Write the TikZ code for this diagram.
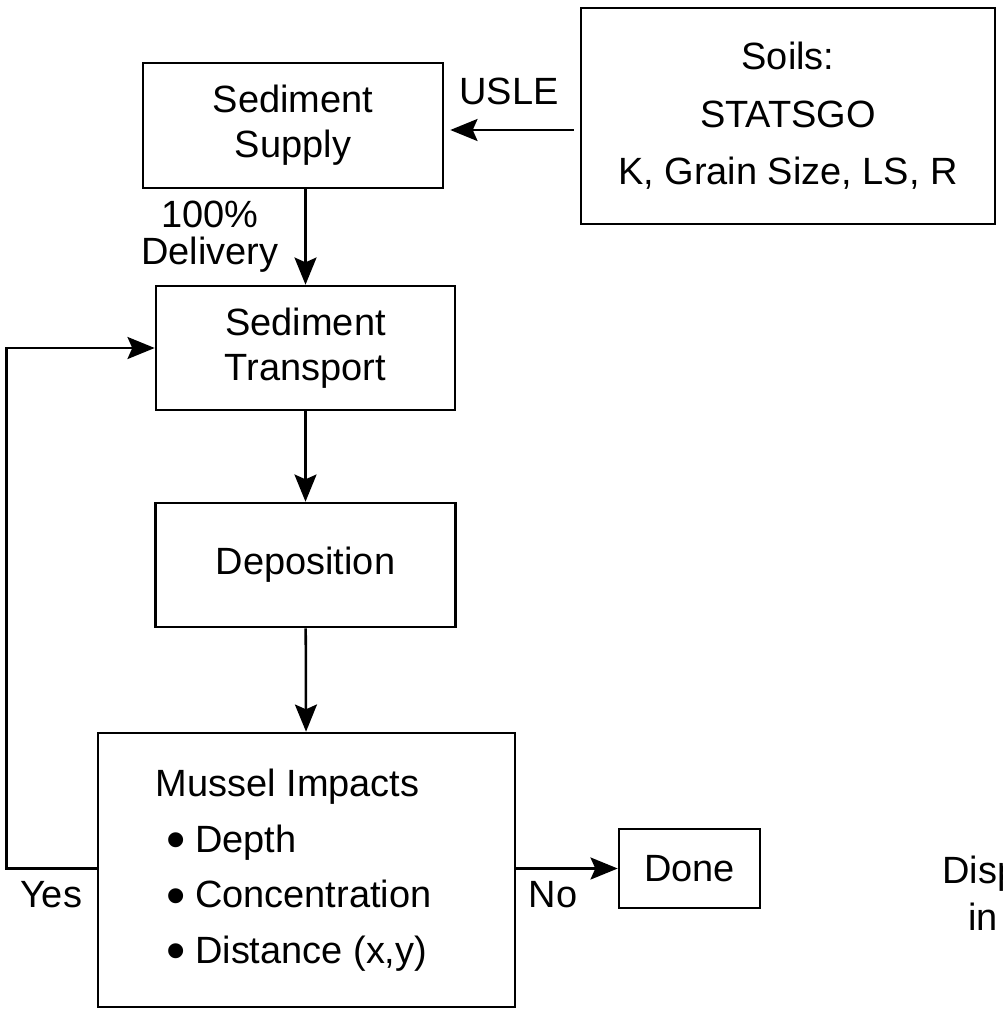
\documentclass[tikz,border=0pt]{standalone}
\usepackage{fontspec}
\setmainfont{Liberation Sans}
\usetikzlibrary{arrows.meta}

\newcommand{\bigdot}{\hspace*{0.28em}\raisebox{-0.17em}{\scalebox{1.45}{\textbullet}}\hspace{0.25em}}

\begin{document}
\begin{tikzpicture}[x=0.025cm,y=-0.025cm,
	box/.style={draw, line width=1.8pt, inner sep=0pt, align=center, font=\fontsize{27}{32}\selectfont},
	lbl/.style={inner sep=0pt, align=center, font=\fontsize{27}{26.5}\selectfont},
	arr/.style={line width=1.8pt, -{Stealth[length=0.68cm,width=0.55cm,inset=0.12cm]}}]

	\useasboundingbox (0,0) rectangle (1003,1013);

	\node[box, minimum width=7.5cm, minimum height=3.125cm] (supply) at (293,125.5) {Sediment\\Supply};
	\node[box, minimum width=10.35cm, minimum height=5.4cm, font=\fontsize{27}{41}\selectfont] (soils) at (788,116) {Soils:\\STATSGO\\K, Grain Size, LS, R};
	\node[box, minimum width=7.475cm, minimum height=3.1cm] (transport) at (305.5,348) {Sediment\\Transport};
	\node[box, minimum width=7.5cm, minimum height=3.1cm] (deposition) at (305.5,565) {Deposition};
	\node[box, minimum width=10.425cm, minimum height=6.85cm, align=left, font=\fontsize{27}{39.5}\selectfont] (mussel) at (306.5,870)
		{Mussel Impacts\\
		 \bigdot Depth\\
		 \bigdot Concentration\\
		 \bigdot Distance (x,y)\hspace*{0.75cm}};
	\node[box, minimum width=3.525cm, minimum height=1.975cm] (done) at (689.5,868.5) {Done};

	\node[lbl] (usle) at (509,91) {USLE};
	\node[lbl] (delivery) at (210,237) {100\%\\Delivery};
	\node[lbl] (yes) at (51,895) {Yes};
	\node[lbl] (no) at (553,895) {No};
	\node[lbl, anchor=base west] (disp) at (942,883) {Disp};
	\node[lbl, anchor=base west] (in) at (968,930) {in};

	\draw[arr, shorten <=0.15cm, shorten >=0.15cm] ([yshift=-0.35cm]soils.west) coordinate (u) -- (u -| supply.east);
	\draw[arr] (supply.south -| transport.north) -- (transport.north);
	\draw[arr] (transport) -- (deposition);
	\draw[arr] (deposition) -- (mussel);
	\draw[arr] (mussel.west |- done.west) -- ++(-2.25cm,0) |- (transport.west);
	\draw[arr] (mussel.east |- done.west) -- (done.west);

\end{tikzpicture}
\end{document}
